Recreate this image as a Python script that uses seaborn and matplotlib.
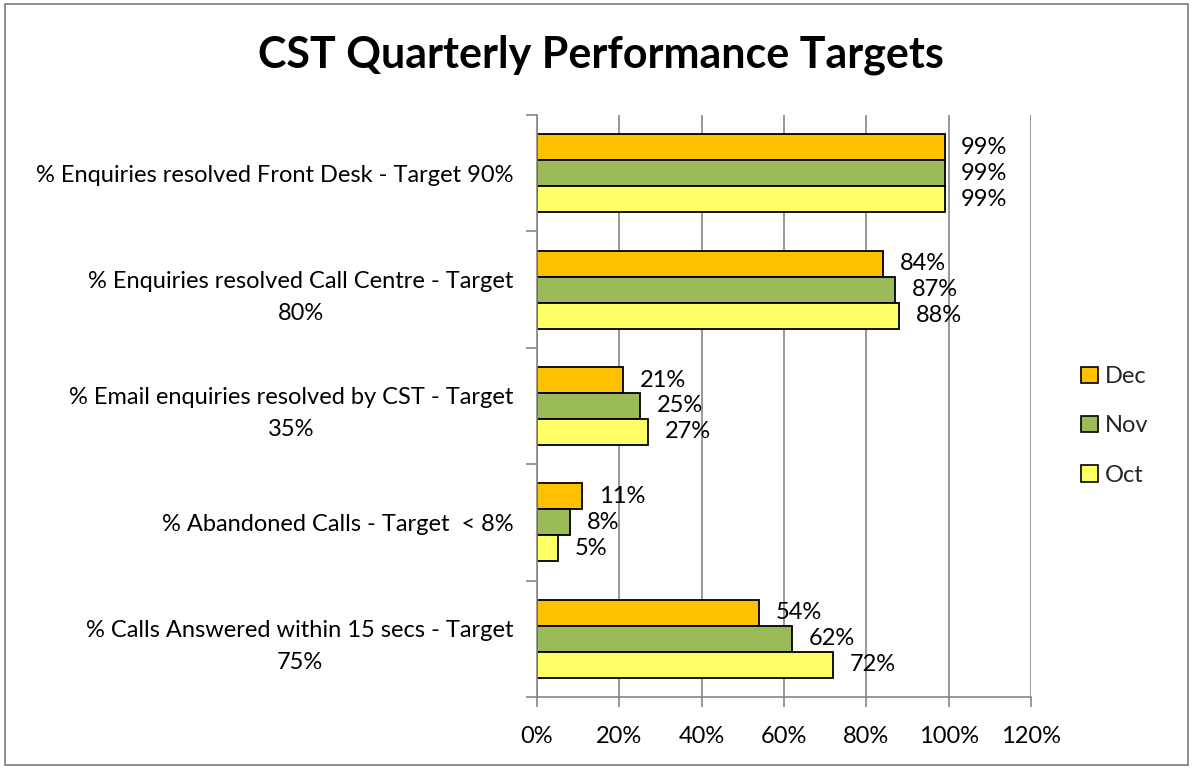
import matplotlib
matplotlib.use("Agg")
import matplotlib.pyplot as plt
from matplotlib.patches import Rectangle, Patch
import seaborn as sns
import pandas as pd

categories = [
    "% Enquiries resolved Front Desk - Target 90%",
    "% Enquiries resolved Call Centre - Target\n80%",
    "% Email enquiries resolved by CST - Target\n35%",
    "% Abandoned Calls - Target  < 8%",
    "% Calls Answered within 15 secs - Target\n75%",
]
months = ["Dec", "Nov", "Oct"]
dec = [99, 84, 21, 11, 54]
nov = [99, 87, 25, 8, 62]
oct_ = [99, 88, 27, 5, 72]
colors = {"Dec": "#FFC000", "Nov": "#9BBB59", "Oct": "#FFFF66"}
xticks = [0, 20, 40, 60, 80, 100, 120]

rows = []
for m, vals in zip(months, [dec, nov, oct_]):
    for c, v in zip(categories, vals):
        rows.append({"category": c, "month": m, "value": v})
df = pd.DataFrame(rows)

sns.set_theme(style="white")
plt.rcParams["font.family"] = ["Lato", "DejaVu Sans"]

FS = 17

fig = plt.figure(figsize=(11.92, 7.69), dpi=100)
ax = fig.add_axes([537 / 1192, 1 - 697 / 769, (1031 - 537) / 1192, (697 - 115) / 769])

sns.barplot(data=df, y="category", x="value", hue="month", order=categories,
            hue_order=months, palette=colors, orient="h", width=0.67,
            edgecolor="black", linewidth=1.3, saturation=1, ax=ax, legend=False)

for cont in ax.containers:
    ax.bar_label(cont, labels=[f"{int(v)}%" for v in cont.datavalues],
                 padding=12, fontsize=FS, color="black")

ax.set_xlim(0, 120)
ax.set_ylim(4.5, -0.5)
ax.set_xticks(xticks)
ax.set_xticklabels([f"{t}%" for t in xticks], fontsize=FS, color="black")
ax.set_yticks(range(len(categories)))
ax.set_yticklabels(categories, fontsize=FS, color="black", multialignment="center",
                   linespacing=1.65)
ax.set_yticks([i - 0.5 for i in range(len(categories) + 1)], minor=True)
ax.tick_params(axis="y", which="major", length=0, pad=17)
ax.tick_params(axis="y", which="minor", length=8, color="#868686", width=1.2, direction="out", left=True)
ax.tick_params(axis="x", which="major", length=7, color="#868686", width=1.2, direction="out", bottom=True, pad=14)
ax.set_xlabel("")
ax.set_ylabel("")
ax.grid(axis="x", color="#868686", linewidth=1.2)
ax.set_axisbelow(True)
for s in ["top", "right"]:
    ax.spines[s].set_visible(False)
for s in ["left", "bottom"]:
    ax.spines[s].set_color("#868686")
    ax.spines[s].set_linewidth(1.2)

fig.text(601 / 1192, 1 - 55 / 769, "CST Quarterly Performance Targets",
         ha="center", va="center", fontsize=31, fontweight="bold", color="black")

handles = [Patch(facecolor=colors[m], edgecolor="black", linewidth=1.2, label=m) for m in months]
fig.legend(handles=handles, loc="center left", bbox_to_anchor=(1060 / 1192, 1 - 426 / 769),
           frameon=False, fontsize=FS, labelspacing=1.2, handlelength=0.7,
           handleheight=0.7, handletextpad=0.3)

fig.patches.append(Rectangle((5 / 1192, 4 / 769), 1183 / 1192, 761 / 769,
                             transform=fig.transFigure, fill=False,
                             edgecolor="#868686", linewidth=1.3))

fig.savefig("out.png", dpi=100)
